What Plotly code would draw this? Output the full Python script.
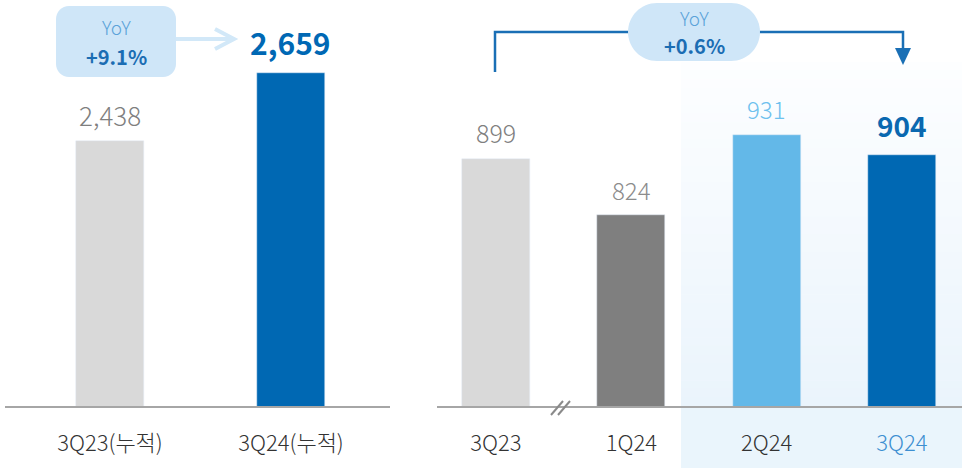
import plotly.graph_objects as go

# ---- data ----
cum_labels = ["3Q23(누적)", "3Q24(누적)"]
cum_values = [2438, 2659]
cum_yoy = "+9.1%"

qtr_labels = ["3Q23", "1Q24", "2Q24", "3Q24"]
qtr_values = [899, 824, 931, 904]
qtr_yoy = "+0.6%"

# ---- styling ----
W, H = 962, 468
FONT = "Noto Sans CJK KR, Noto Sans, sans-serif"
BASE_PX = 406  # baseline pixel row
K = 0.5523  # cubic bezier circle factor

cum_colors = ["#d9d9d9", "#0068b3"]
qtr_colors = ["#d9d9d9", "#7f7f7f", "#63b8e8", "#0068b3"]
# (colour, size, bold, offset above bar top in px)
cum_lbl_style = [("#7f7f7f", 26, False, 26), ("#0068b4", 30, True, 31)]
qtr_lbl_style = [("#7f7f7f", 25, False, 27), ("#8c8c8c", 24, False, 25),
                 ("#6ec1ee", 24, False, 26), ("#0a68b0", 28, True, 30)]


def px(x):
    return x / W


def py(y):
    return 1 - y / H


def pt(x, y):
    return f"{px(x)},{py(y)}"


def round_rect(x0, y0, x1, y1, r):
    k = r * (1 - K)
    return " ".join([
        "M" + pt(x0 + r, y0),
        "L" + pt(x1 - r, y0),
        "C" + pt(x1 - k, y0) + " " + pt(x1, y0 + k) + " " + pt(x1, y0 + r),
        "L" + pt(x1, y1 - r),
        "C" + pt(x1, y1 - k) + " " + pt(x1 - k, y1) + " " + pt(x1 - r, y1),
        "L" + pt(x0 + r, y1),
        "C" + pt(x0 + k, y1) + " " + pt(x0, y1 - k) + " " + pt(x0, y1 - r),
        "L" + pt(x0, y0 + r),
        "C" + pt(x0, y0 + k) + " " + pt(x0 + k, y0) + " " + pt(x0 + r, y0),
        "Z",
    ])


def poly(points, close=False):
    s = " ".join(("M" if i == 0 else "L") + pt(x, y) for i, (x, y) in enumerate(points))
    return s + (" Z" if close else "")


fig = go.Figure()

fig.add_trace(go.Bar(
    x=cum_labels, y=cum_values, marker_color=cum_colors, width=0.376,
    xaxis="x", yaxis="y", hoverinfo="skip", showlegend=False,
))
fig.add_trace(go.Bar(
    x=qtr_labels, y=qtr_values, marker_color=qtr_colors, width=0.503,
    xaxis="x2", yaxis="y2", hoverinfo="skip", showlegend=False,
))

annotations = []
for axes, labels, values, styles in (("x", cum_labels, cum_values, cum_lbl_style),
                                     ("x2", qtr_labels, qtr_values, qtr_lbl_style)):
    yref = "y" if axes == "x" else "y2"
    for lbl, v, (c, s, b, off) in zip(labels, values, styles):
        t = f"{v:,}"
        annotations.append(dict(
            x=lbl, y=v, xref=axes, yref=yref, text=f"<b>{t}</b>" if b else t,
            showarrow=False, xanchor="center", yanchor="middle", yshift=off,
            font=dict(family=FONT, size=s, color=c, weight=300 if not b else 700),
        ))

# YoY callouts
for cx, yoy, (y1, y2) in ((116, cum_yoy, (26, 56)), (694, qtr_yoy, (18, 46))):
    annotations.append(dict(x=px(cx), y=py(y1), xref="paper", yref="paper", text="YoY",
                            showarrow=False, xanchor="center", yanchor="middle",
                            font=dict(family=FONT, size=19, color="#5ba3d9", weight=300)))
    annotations.append(dict(x=px(cx), y=py(y2), xref="paper", yref="paper", text=f"<b>{yoy}</b>",
                            showarrow=False, xanchor="center", yanchor="middle",
                            font=dict(family=FONT, size=20, color="#1b6db3")))

shapes = []
# highlighted quarter band with a soft vertical gradient
top, n = 62, 40
c0, c1 = (253, 254, 255), (234, 244, 252)
step = (BASE_PX - top) / n
for i in range(n):
    f = (i + 0.5) / n
    col = tuple(round(a + (b - a) * f) for a, b in zip(c0, c1))
    shapes.append(dict(type="rect", xref="paper", yref="paper", layer="below",
                       x0=px(681), x1=1, y0=py(top + (i + 1) * step + 0.5), y1=py(top + i * step),
                       fillcolor=f"rgb{col}", line_width=0))
shapes.append(dict(type="rect", xref="paper", yref="paper", layer="below",
                   x0=px(681), x1=1, y0=0, y1=py(BASE_PX), fillcolor="rgb(234,245,252)", line_width=0))

# left callout box and arrow
shapes.append(dict(type="path", xref="paper", yref="paper", path=round_rect(56, 6, 176, 77, 13),
                   fillcolor="#cfe6f8", line_width=0))
shapes.append(dict(type="path", xref="paper", yref="paper", path=poly([(176, 39), (233, 39)]),
                   line=dict(color="#d2e8f8", width=4)))
shapes.append(dict(type="path", xref="paper", yref="paper", path=poly([(215, 29), (234, 39), (215, 49)]),
                   line=dict(color="#d2e8f8", width=4)))

# right bracket connector
shapes.append(dict(type="path", xref="paper", yref="paper",
                   path=poly([(495, 72), (495, 32), (903, 32), (903, 50)]),
                   line=dict(color="#1a6fb5", width=2.5)))
shapes.append(dict(type="path", xref="paper", yref="paper",
                   path=poly([(895, 48), (911, 48), (903, 65)], close=True),
                   fillcolor="#1a6fb5", line_width=0))
shapes.append(dict(type="path", xref="paper", yref="paper", path=round_rect(628, 3, 760, 61, 29),
                   fillcolor="#cfe6f8", line_width=0))

# axis break marks
for dx in (0, 7):
    shapes.append(dict(type="line", xref="paper", yref="paper",
                       x0=px(551 + dx), y0=py(415), x1=px(563 + dx), y1=py(401),
                       line=dict(color="#8a8a8a", width=2)))

ydom = [py(BASE_PX), 1]
axis_common = dict(showline=True, linecolor="#a6a6a6", linewidth=1.5, ticks="",
                   showgrid=False, zeroline=False, fixedrange=True,
                   tickfont=dict(family=FONT, size=22, color="#333333", weight=300),
                   ticklabelstandoff=17)

qtr_ticktext = [l if l != "3Q24" else f'<span style="color:#3d8fd1">{l}</span>' for l in qtr_labels]

fig.update_layout(
    width=W, height=H,
    margin=dict(l=0, r=0, t=0, b=0),
    paper_bgcolor="white", plot_bgcolor="rgba(0,0,0,0)",
    bargap=0,
    xaxis=dict(domain=[px(5), px(390)], range=[-0.58, 1.547], type="category",
               anchor="y", **axis_common),
    yaxis=dict(domain=ydom, range=[1577, 2896], visible=False, anchor="x"),
    xaxis2=dict(domain=[px(437), 1], range=[-0.436, 3.444], type="category",
                anchor="y2", tickvals=qtr_labels, ticktext=qtr_ticktext, **axis_common),
    yaxis2=dict(domain=ydom, range=[567, 1112], visible=False, anchor="x2"),
    annotations=annotations,
    shapes=shapes,
)

fig.write_html("out.html")
